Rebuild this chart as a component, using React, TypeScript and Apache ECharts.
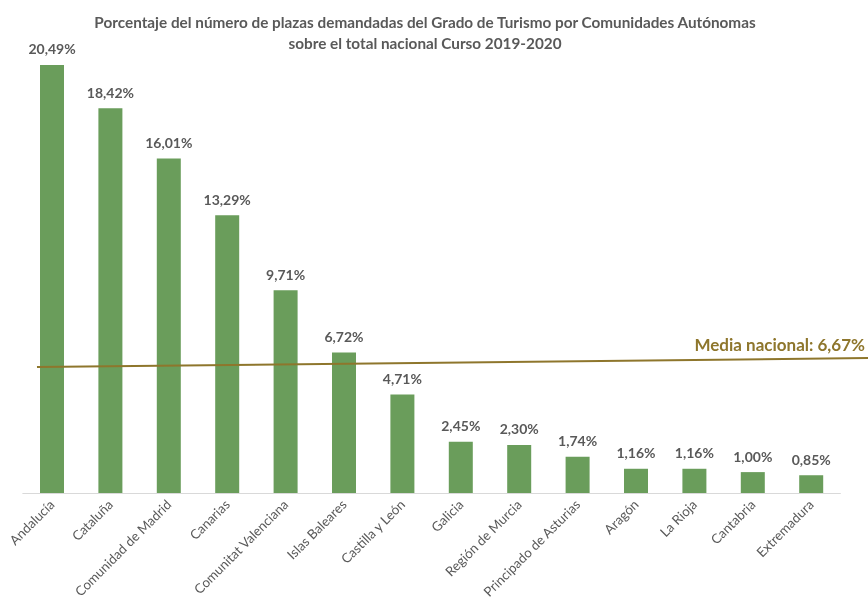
import React, { useEffect, useRef } from "react";
import * as echarts from "echarts";

const categories = [
  "Andalucía", "Cataluña", "Comunidad de Madrid", "Canarias", "Comunitat Valenciana",
  "Islas Baleares", "Castilla y León", "Galicia", "Región de Murcia", "Principado de Asturias",
  "Aragón", "La Rioja", "Cantabria", "Extremadura",
];
const values = [20.49, 18.42, 16.01, 13.29, 9.71, 6.72, 4.71, 2.45, 2.3, 1.74, 1.16, 1.16, 1.0, 0.85];
const mediaNacional = 6.67;
// hand-drawn annotation line (slightly sloped in the original), in [x fraction of width, value]
const mediaLine = [[0.0426, 6.03], [1.0, 6.46]];

const fmt = (v: number) => v.toFixed(2).replace(".", ",") + "%";

export default function App() {
  const ref = useRef<HTMLDivElement>(null);
  useEffect(() => {
    const chart = echarts.init(ref.current!, undefined, { renderer: "svg" });
    const font = "Lato";
    chart.setOption({
      animation: false,
      textStyle: { fontFamily: font },
      title: {
        text: "Porcentaje del número de plazas demandadas del Grado de Turismo por Comunidades Autónomas\nsobre el total nacional Curso 2019-2020",
        left: 420,
        top: 6,
        textAlign: "center",
        textStyle: { fontFamily: font, fontSize: 15.3, fontWeight: "bold", color: "#595959", lineHeight: 21 },
      },
      grid: [
        { left: 22.8, right: 27.6, top: 33.4, bottom: 114, containLabel: false },
        { left: 0, right: 0, top: 33.4, bottom: 114, containLabel: false },
      ],
      xAxis: [
        {
          type: "category",
          gridIndex: 0,
          data: categories,
          axisLine: { lineStyle: { color: "#d9d9d9", width: 1 } },
          axisTick: { show: false },
          axisLabel: { rotate: 45, interval: 0, color: "#595959", fontSize: 13.3, fontFamily: font, margin: 9 },
        },
        { type: "value", gridIndex: 1, min: 0, max: 1, show: false },
      ],
      yAxis: [
        { type: "value", gridIndex: 0, min: 0, max: 22, show: false, splitLine: { show: false } },
        { type: "value", gridIndex: 1, min: 0, max: 22, show: false, splitLine: { show: false } },
      ],
      series: [
        {
          type: "bar",
          data: values,
          barWidth: 24,
          itemStyle: { color: "#6a9d5b" },
          label: {
            show: true,
            position: "top",
            distance: 9,
            formatter: (p: any) => fmt(p.value),
            color: "#595959",
            fontWeight: "bold",
            fontSize: 14,
            fontFamily: font,
          },
        },
        {
          type: "line",
          xAxisIndex: 1,
          yAxisIndex: 1,
          data: mediaLine,
          symbol: "none",
          lineStyle: { color: "#8e762c", width: 2 },
        },
      ],
      graphic: [
        {
          type: "text",
          right: 3,
          top: 336,
          style: {
            text: "Media nacional: " + fmt(mediaNacional),
            fill: "#8e762c",
            font: "bold 17px Lato",
          },
        },
      ],
    });
    return () => chart.dispose();
  }, []);
  return <div ref={ref} style={{ position: "fixed", left: 0, top: 0, width: 868, height: 607 }} />;
}
